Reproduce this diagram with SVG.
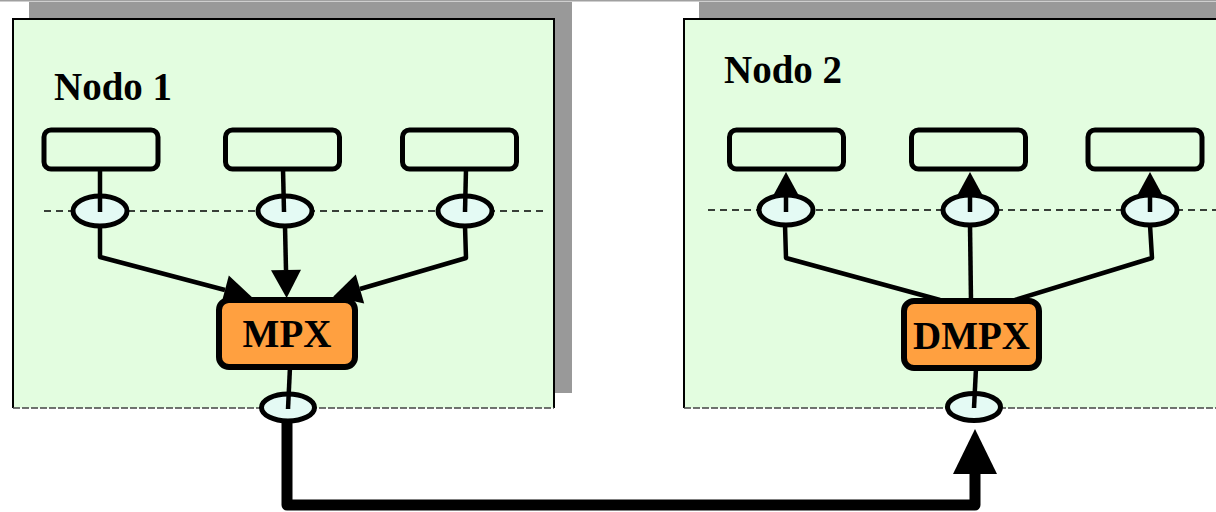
<svg xmlns="http://www.w3.org/2000/svg" width="1216" height="512" viewBox="0 0 1216 512">
  <style>
    .shadow { fill: #999999; }
    .frame-edge { fill: none; stroke: #000; stroke-width: 2; }
    .frame-fill { fill: #e3fde0; }
    .frame-bottom { fill: none; stroke: #444; stroke-width: 1.5; stroke-dasharray: 7 2; }
    .title { font-family: "Liberation Serif", "Times New Roman", serif; font-weight: bold; font-size: 39px; fill: #000; }
    .port { fill: none; stroke: #000; stroke-width: 5; }
    .bus { fill: none; stroke: #000; stroke-width: 1.5; stroke-dasharray: 7 5; }
    .sap { fill: #e4faf4; stroke: #000; stroke-width: 5; }
    .mux { fill: #ffa040; stroke: #000; stroke-width: 6; }
    .mux-label { font-family: "Liberation Serif", "Times New Roman", serif; font-weight: bold; font-size: 39px; fill: #000; text-anchor: middle; }
    .wire { fill: none; stroke: #000; stroke-width: 4.5; stroke-linejoin: round; }
    .trunk { fill: none; stroke: #000; stroke-width: 11; stroke-linejoin: round; }
  </style>
  <defs>
    <marker id="arrMid" markerUnits="userSpaceOnUse" markerWidth="30" markerHeight="32" refX="0" refY="15" orient="auto" overflow="visible">
      <path d="M0,0 L28,15 L0,30 Z" fill="#000"/>
    </marker>
    <marker id="arrSmall" markerUnits="userSpaceOnUse" markerWidth="25" markerHeight="27" refX="0" refY="12.5" orient="auto" overflow="visible">
      <path d="M0,0 L23,12.5 L0,25 Z" fill="#000"/>
    </marker>
    <marker id="arrBig" markerUnits="userSpaceOnUse" markerWidth="46" markerHeight="46" refX="0" refY="22" orient="auto" overflow="visible">
      <path d="M0,0 L45,22 L0,44 Z" fill="#000"/>
    </marker>
  </defs>

  <!-- page top rule -->
  <rect x="0" y="0" width="1216" height="1.5" fill="#a0a0a0"/>

  <!-- Node 1 frame -->
  <g id="nodo1">
    <rect class="shadow" x="29" y="2" width="543" height="391"/>
    <rect class="frame-fill" x="13" y="19" width="541" height="389"/>
    <path class="frame-edge" d="M13,408 V19 H554 V408"/>
    <line class="frame-bottom" x1="13" y1="408" x2="554" y2="408"/>
    <text class="title" x="54" y="100">Nodo 1</text>
    <line class="bus" x1="44" y1="211" x2="548" y2="211"/>
  </g>

  <!-- Node 2 frame -->
  <g id="nodo2">
    <rect class="shadow" x="699" y="2" width="530" height="391"/>
    <rect class="frame-fill" x="684" y="19" width="540" height="389"/>
    <path class="frame-edge" d="M684,408 V19 H1224"/>
    <line class="frame-bottom" x1="684" y1="408" x2="1216" y2="408"/>
    <text class="title" x="724" y="83">Nodo 2</text>
    <line class="bus" x1="708" y1="210" x2="1216" y2="210"/>
  </g>

  <!-- Node 1 ports -->
  <g id="n1-port1"><rect class="port" x="44" y="130" width="114" height="39" rx="7"/></g>
  <g id="n1-port2"><rect class="port" x="225.5" y="130" width="114" height="39" rx="7"/></g>
  <g id="n1-port3"><rect class="port" x="402.5" y="130" width="114" height="39" rx="7"/></g>

  <!-- Node 2 ports -->
  <g id="n2-port1"><rect class="port" x="729.5" y="130" width="114" height="39" rx="7"/></g>
  <g id="n2-port2"><rect class="port" x="911.5" y="130" width="114" height="39" rx="7"/></g>
  <g id="n2-port3"><rect class="port" x="1088" y="130" width="114" height="39" rx="7"/></g>

  <!-- access points -->
  <g id="n1-sap1"><ellipse class="sap" cx="100" cy="211" rx="27" ry="15"/></g>
  <g id="n1-sap2"><ellipse class="sap" cx="285" cy="211" rx="27" ry="15"/></g>
  <g id="n1-sap3"><ellipse class="sap" cx="465" cy="211" rx="27" ry="15"/></g>
  <g id="n1-sap-out"><ellipse class="sap" cx="288" cy="407.5" rx="26.5" ry="13.5"/></g>
  <g id="n2-sap1"><ellipse class="sap" cx="786" cy="210" rx="27" ry="15"/></g>
  <g id="n2-sap2"><ellipse class="sap" cx="970" cy="210" rx="27" ry="15"/></g>
  <g id="n2-sap3"><ellipse class="sap" cx="1150" cy="210" rx="27" ry="15"/></g>
  <g id="n2-sap-in"><ellipse class="sap" cx="974" cy="407" rx="26.5" ry="13.5"/></g>

  <!-- multiplexer / demultiplexer -->
  <g id="mpx">
    <rect class="mux" x="219" y="300" width="136" height="67" rx="10"/>
    <text class="mux-label" x="287" y="347">MPX</text>
  </g>
  <g id="dmpx">
    <rect class="mux" x="904" y="301" width="135" height="67" rx="10"/>
    <text class="mux-label" x="971.5" y="349">DMPX</text>
  </g>

  <!-- connectors -->
  <g id="connectors">
    <!-- node 1: ports down to access points -->
    <line class="wire" x1="100" y1="169" x2="100" y2="212"/>
    <line class="wire" x1="283" y1="169" x2="284" y2="212"/>
    <line class="wire" x1="466" y1="169" x2="465" y2="212"/>
    <!-- node 1: access points into MPX -->
    <polyline class="wire" points="100,226 100,257 225,290" marker-end="url(#arrMid)"/>
    <polyline class="wire" points="285,226 286,270" marker-end="url(#arrMid)"/>
    <polyline class="wire" points="465,226 466,258 360,289" marker-end="url(#arrMid)"/>
    <!-- MPX to outgoing access point -->
    <line class="wire" x1="290" y1="367" x2="288" y2="409"/>

    <!-- node 2: access points up to ports -->
    <line class="wire" x1="786" y1="212" x2="786" y2="195" marker-end="url(#arrSmall)"/>
    <line class="wire" x1="970" y1="212" x2="970" y2="195" marker-end="url(#arrSmall)"/>
    <line class="wire" x1="1150" y1="212" x2="1150" y2="195" marker-end="url(#arrSmall)"/>
    <!-- node 2: DMPX out to access points -->
    <polyline class="wire" points="940,300 786,258 785,225"/>
    <line class="wire" x1="971" y1="301" x2="970" y2="225"/>
    <polyline class="wire" points="1015,300 1152,258 1150,225"/>
    <!-- incoming access point to DMPX -->
    <line class="wire" x1="976" y1="368" x2="974" y2="408"/>

    <!-- link between the two nodes -->
    <path class="trunk" d="M287,422 V505 H975 V474" marker-end="url(#arrBig)"/>
  </g>
</svg>
